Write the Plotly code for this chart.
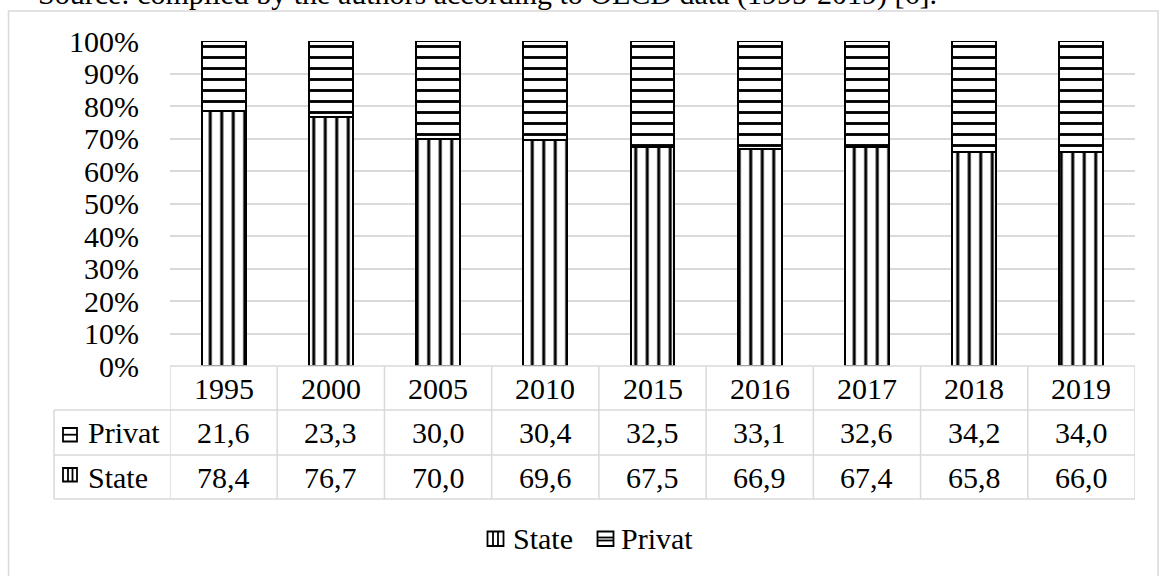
import plotly.graph_objects as go

years = ["1995", "2000", "2005", "2010", "2015", "2016", "2017", "2018", "2019"]
state = [78.4, 76.7, 70.0, 69.6, 67.5, 66.9, 67.4, 65.8, 66.0]
privat = [21.6, 23.3, 30.0, 30.4, 32.5, 33.1, 32.6, 34.2, 34.0]
source_text = "Source: compiled by the authors according to OECD data (1995-2019) [6]."

W, H = 1159, 576
L, R, T, B = 170, 24, 41, 210
PW = W - L - R
PH = H - T - B
FONT = "Liberation Serif"
GRID = "#d9d9d9"


def X(px):
    return (px - L) / PW


def Y(py):
    return (H - B - py) / PH


def fmt(v):
    return f"{v:.1f}".replace(".", ",")


fig = go.Figure()
fig.add_trace(go.Bar(
    x=years, y=state, name="State",
    marker=dict(color="white", line=dict(color="black", width=2),
                pattern=dict(shape="|", fgcolor="black", bgcolor="white", fgopacity=1,
                             size=11.5, solidity=0.26)),
))
fig.add_trace(go.Bar(
    x=years, y=privat, name="Privat",
    marker=dict(color="white", line=dict(color="black", width=2),
                pattern=dict(shape="-", fgcolor="black", bgcolor="white", fgopacity=1,
                             size=11, solidity=0.26)),
))

shapes = []
annotations = []

# outer chart border
shapes.append(dict(type="rect", xref="paper", yref="paper", x0=X(8.5), x1=X(1158), y0=Y(11), y1=Y(600),
                   line=dict(color=GRID, width=1.5), fillcolor="rgba(0,0,0,0)", layer="below"))

# data table grid
row_y = [366, 410, 455, 499]
tl = dict(color=GRID, width=1.5)
for i, py in enumerate(row_y):
    x0 = X(170) if i == 0 else X(54)
    shapes.append(dict(type="line", xref="paper", yref="paper", x0=x0, x1=1, y0=Y(py), y1=Y(py), line=tl))
shapes.append(dict(type="line", xref="paper", yref="paper", x0=X(54), x1=X(54), y0=Y(410), y1=Y(499), line=tl))
for k in range(len(years) + 1):
    shapes.append(dict(type="line", xref="x", yref="paper", x0=k - 0.5, x1=k - 0.5, y0=Y(366), y1=Y(499), line=tl))

tf = dict(family=FONT, size=30, color="black")
rows = [(years, 388), ([fmt(v) for v in privat], 432.5), ([fmt(v) for v in state], 477)]
for vals, cy in rows:
    for i, t in enumerate(vals):
        annotations.append(dict(x=i, xref="x", y=Y(cy), yref="paper", text=t, showarrow=False,
                                font=tf, xanchor="center", yanchor="middle"))

# row labels with legend keys
annotations.append(dict(x=X(86), xref="paper", y=Y(432.5), yref="paper", text="Privat", showarrow=False,
                        font=tf, xanchor="left", yanchor="middle"))
annotations.append(dict(x=X(86), xref="paper", y=Y(477), yref="paper", text="State", showarrow=False,
                        font=tf, xanchor="left", yanchor="middle"))

kl = dict(color="black", width=1.8)


def key_h(x0, x1, y0, y1, lines):
    shapes.append(dict(type="rect", xref="paper", yref="paper", x0=X(x0), x1=X(x1), y0=Y(y0), y1=Y(y1),
                       line=kl, fillcolor="white"))
    for ly in lines:
        shapes.append(dict(type="line", xref="paper", yref="paper", x0=X(x0), x1=X(x1), y0=Y(ly), y1=Y(ly), line=kl))


def key_v(x0, x1, y0, y1, lines):
    shapes.append(dict(type="rect", xref="paper", yref="paper", x0=X(x0), x1=X(x1), y0=Y(y0), y1=Y(y1),
                       line=kl, fillcolor="white"))
    for lx in lines:
        shapes.append(dict(type="line", xref="paper", yref="paper", x0=X(lx), x1=X(lx), y0=Y(y0), y1=Y(y1), line=kl))


key_h(63, 77, 428, 441.5, [434.7])
key_v(63, 77, 468, 481.5, [68, 72.5])

# bottom legend
key_v(487.5, 503.5, 531.5, 546, [493, 498])
annotations.append(dict(x=X(511), xref="paper", y=Y(538), yref="paper", text="State", showarrow=False,
                        font=tf, xanchor="left", yanchor="middle"))
key_h(597.5, 613.5, 531.5, 546, [537.5, 540.5])
annotations.append(dict(x=X(619), xref="paper", y=Y(538), yref="paper", text="Privat", showarrow=False,
                        font=tf, xanchor="left", yanchor="middle"))

# cut-off source line at top
annotations.append(dict(x=X(36), xref="paper", y=Y(-6), yref="paper", text=source_text, showarrow=False,
                        font=tf, xanchor="left", yanchor="middle"))

fig.update_layout(
    width=W, height=H,
    margin=dict(l=L, r=R, t=T, b=B),
    paper_bgcolor="white", plot_bgcolor="white",
    barmode="stack", bargap=0.59,
    showlegend=False,
    font=dict(family=FONT, size=30, color="black"),
    shapes=shapes, annotations=annotations,
    xaxis=dict(type="category", range=[-0.5, 8.5], showticklabels=False, showgrid=False,
               zeroline=False, showline=False, ticks=""),
    yaxis=dict(range=[0, 100], dtick=10, ticksuffix="%", showgrid=True, gridcolor=GRID, gridwidth=1.5,
               zeroline=False, showline=False, ticks="", ticklabelstandoff=30,
               tickfont=dict(family=FONT, size=30, color="black")),
)

fig.write_html("out.html")
